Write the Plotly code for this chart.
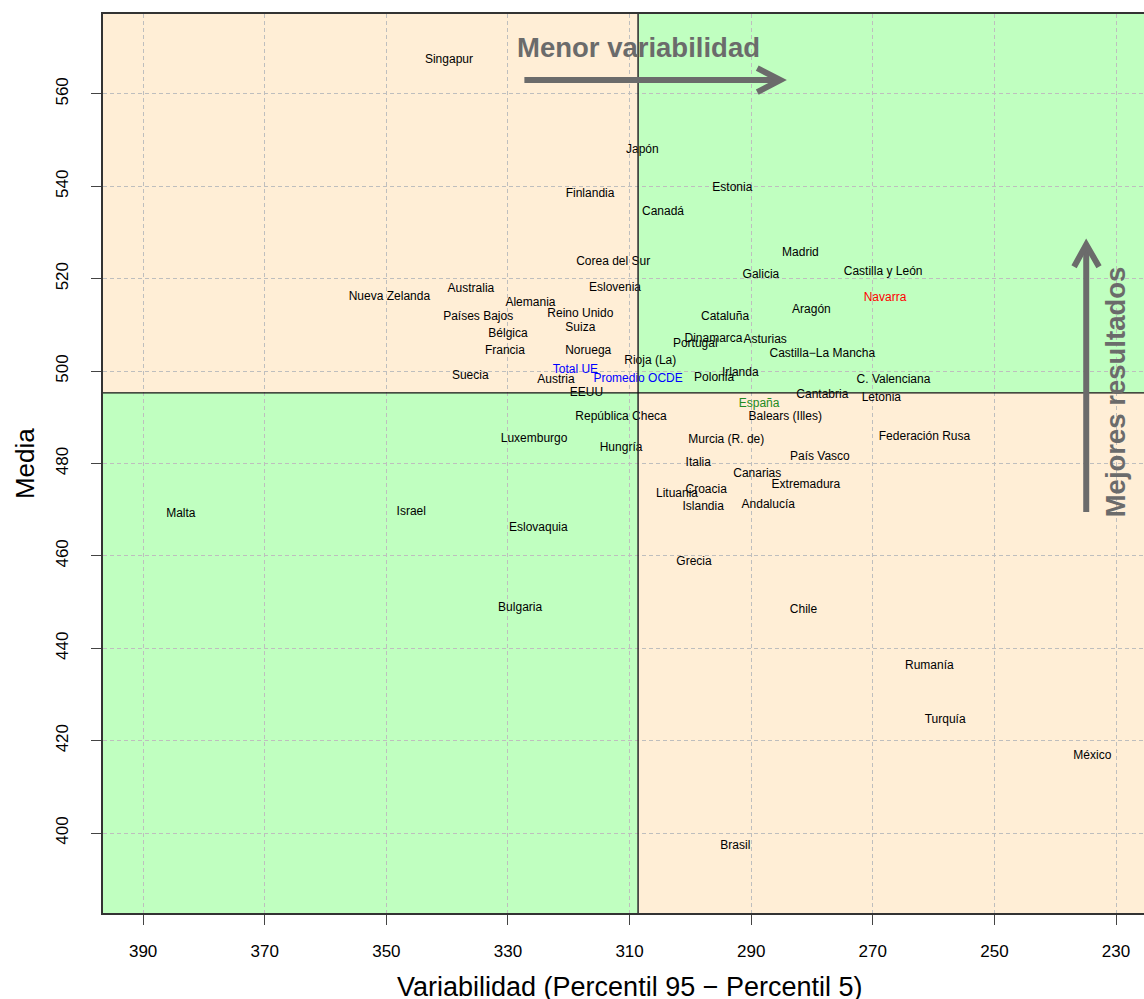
import plotly.graph_objects as go

# ---- data ----
etiquetas = [
    "Singapur", "Japón", "Estonia", "Finlandia", "Canadá", "Madrid", "Corea del Sur",
    "Castilla y León", "Galicia", "Australia", "Eslovenia", "Nueva Zelanda", "Navarra",
    "Alemania", "Aragón", "Reino Unido", "Países Bajos", "Cataluña", "Suiza", "Bélgica",
    "Dinamarca", "Asturias", "Portugal", "Francia", "Noruega", "Castilla\u2212La Mancha",
    "Rioja (La)", "Total UE", "Irlanda", "Suecia", "Polonia", "Promedio OCDE", "Austria",
    "C. Valenciana", "EEUU", "Cantabria", "Letonia", "España", "República Checa",
    "Balears (Illes)", "Federación Rusa", "Luxemburgo", "Murcia (R. de)", "Hungría",
    "País Vasco", "Italia", "Canarias", "Extremadura", "Croacia", "Lituania", "Islandia",
    "Andalucía", "Malta", "Israel", "Eslovaquia", "Grecia", "Bulgaria", "Chile",
    "Rumanía", "Turquía", "México", "Brasil",
]
variabilidad = [
    339.7, 307.9, 293.1, 316.5, 304.5, 281.9, 312.7,
    268.3, 288.4, 336.1, 312.4, 349.5, 268.0,
    326.3, 280.1, 318.1, 334.9, 294.3, 318.1, 330.0,
    296.2, 287.7, 299.2, 330.5, 316.8, 278.3,
    306.6, 318.9, 291.8, 336.2, 296.1, 308.6, 322.1,
    266.6, 317.1, 278.3, 268.6, 288.7, 311.4,
    284.4, 261.5, 325.7, 294.1, 311.4,
    278.7, 298.7, 289.0, 281.0, 297.4, 302.2, 297.9,
    287.2, 383.8, 345.9, 325.0, 299.4, 328.0, 281.4,
    260.7, 258.1, 233.9, 292.6,
]
media = [
    567.4, 547.9, 539.7, 538.4, 534.5, 525.6, 523.6,
    521.5, 520.8, 517.8, 518.0, 516.1, 515.8,
    514.8, 513.2, 512.4, 511.7, 511.7, 509.4, 508.1,
    507.0, 506.8, 505.9, 504.4, 504.4, 503.7,
    502.2, 500.3, 499.6, 499.0, 498.5, 498.3, 498.1,
    498.1, 495.3, 494.8, 494.2, 492.9, 490.1,
    490.1, 485.8, 485.3, 485.1, 483.4,
    481.4, 480.1, 477.7, 475.4, 474.3, 473.4, 470.6,
    471.0, 469.1, 469.5, 466.1, 458.7, 448.7, 448.3,
    436.2, 424.5, 416.7, 397.2,
]
# reference lines dividing the quadrants
corte_variabilidad = 308.6
corte_media = 495.3

x_ticks = [390, 370, 350, 330, 310, 290, 270, 250, 230]
y_ticks = [400, 420, 440, 460, 480, 500, 520, 540, 560]
x_range = [396.6, 225.4]
y_range = [382.7, 577.3]

# ---- styling ----
destacados = {"Total UE": "#0000FF", "Promedio OCDE": "#0000FF",
              "Navarra": "#FF0000", "España": "#228B22"}
colores = [destacados.get(e, "#000000") for e in etiquetas]

NARANJA = "#FFEED6"
VERDE = "#C0FFC0"
GRIS = "#6B6B6B"
FONT = "Liberation Sans, Arial, Helvetica, sans-serif"

fig = go.Figure()
fig.add_trace(go.Scatter(
    x=variabilidad, y=media, text=etiquetas, mode="text",
    textposition="middle center",
    textfont=dict(family=FONT, size=12, color=colores),
    hoverinfo="text", showlegend=False, cliponaxis=False,
))

shapes = []
# quadrant backgrounds
x0, x1 = x_range
y0, y1 = y_range
quads = [
    (x0, corte_variabilidad, corte_media, y1, NARANJA),
    (corte_variabilidad, x1, corte_media, y1, VERDE),
    (x0, corte_variabilidad, y0, corte_media, VERDE),
    (corte_variabilidad, x1, y0, corte_media, NARANJA),
]
for qa, qb, qc, qd, col in quads:
    shapes.append(dict(type="rect", xref="x", yref="y", x0=qa, x1=qb, y0=qc, y1=qd,
                       fillcolor=col, line=dict(width=0), layer="below"))
# quadrant dividing lines
shapes.append(dict(type="line", xref="x", yref="y", x0=corte_variabilidad,
                   x1=corte_variabilidad, y0=y0, y1=y1, line=dict(color="#333333", width=1.6),
                   layer="above"))
shapes.append(dict(type="line", xref="x", yref="y", x0=x0, x1=x1, y0=corte_media,
                   y1=corte_media, line=dict(color="#111111", width=1.3), layer="above"))

# decorative arrows
arrow_line = dict(color=GRIS, width=6)
shapes.append(dict(type="path", xref="x", yref="y", path="M 327.3,563.0 L 285.6,563.0",
                   line=arrow_line, layer="above"))
shapes.append(dict(type="path", xref="x", yref="y",
                   path="M 289.0,565.6 L 285.2,563.0 L 289.0,560.4",
                   line=arrow_line, layer="above"))
shapes.append(dict(type="path", xref="x", yref="y", path="M 234.9,469.5 L 234.9,527.0",
                   line=arrow_line, layer="above"))
shapes.append(dict(type="path", xref="x", yref="y",
                   path="M 236.9,522.6 L 234.9,527.4 L 232.8,522.6",
                   line=arrow_line, layer="above"))

annotations = [
    dict(text="<b>Menor variabilidad</b>", xref="x", yref="y", x=308.6, y=570.0,
         showarrow=False, font=dict(family=FONT, size=27.5, color=GRIS),
         xanchor="center", yanchor="middle"),
    dict(text="<b>Mejores resultados</b>", xref="x", yref="y", x=230.1, y=495.5,
         showarrow=False, textangle=-90, font=dict(family=FONT, size=27.5, color=GRIS),
         xanchor="center", yanchor="middle"),
    dict(text="Variabilidad (Percentil 95 \u2212 Percentil 5)", xref="paper", yref="paper",
         x=0.506, y=-0.0823, showarrow=False, font=dict(family=FONT, size=27, color="#000"),
         xanchor="center", yanchor="middle"),
    dict(text="Media", xref="paper", yref="paper", x=-0.0749, y=0.4994, textangle=-90,
         showarrow=False, font=dict(family=FONT, size=26, color="#000"),
         xanchor="center", yanchor="middle"),
]

fig.update_layout(
    width=1144, height=999,
    margin=dict(l=103, r=0, t=14, b=86),
    paper_bgcolor="white", plot_bgcolor="white",
    shapes=shapes, annotations=annotations,
    font=dict(family=FONT, color="#000"),
)
grid = dict(showgrid=True, gridcolor="#BEBEBE", gridwidth=1, griddash="4px,3px",
            zeroline=False, ticks="outside", ticklen=10, tickcolor="#444444",
            tickfont=dict(family=FONT, size=17, color="#000"),
            showline=True, linecolor="#333333", linewidth=2)
fig.update_xaxes(range=x_range, tickvals=x_ticks, mirror=True, ticklabelstandoff=12, **grid)
fig.update_yaxes(range=y_range, tickvals=y_ticks, tickangle=-90, mirror=False,
                 ticklabelstandoff=16, **grid)

fig.write_html("out.html", config={"displayModeBar": False},
               post_script="document.body.style.margin='0px';")
